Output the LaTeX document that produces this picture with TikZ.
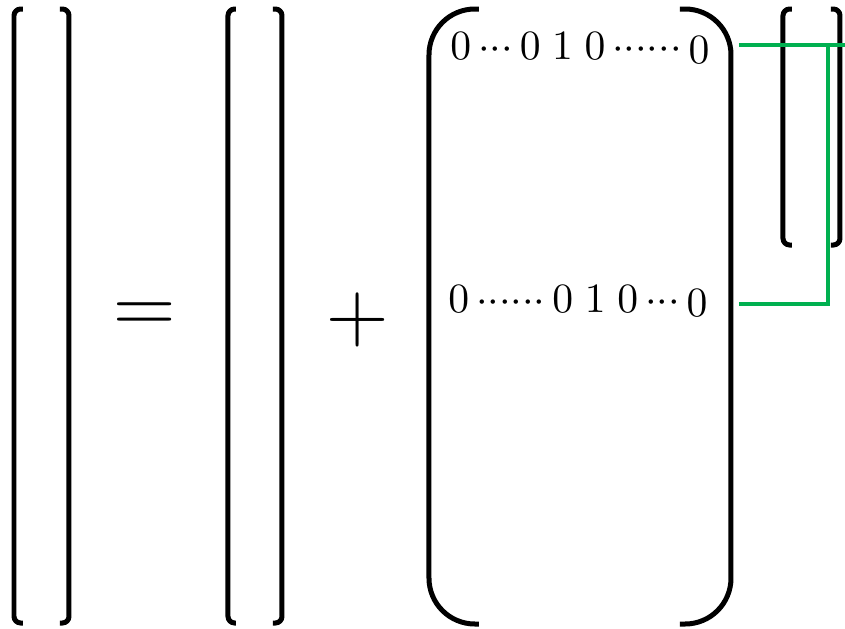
\documentclass[tikz,border=0pt]{standalone}
\usepackage{amsmath,amssymb}
\usepackage{xcolor}
\usetikzlibrary{calc}
\definecolor{linkgreen}{RGB}{0,176,80}
\newcommand{\rdots}{\mathinner{{\cdot}{\cdot}{\cdot}}}

\begin{document}
\begin{tikzpicture}[x=0.24pt, y=-0.24pt, font=\normalsize,
    brk/.style={line width=1.2pt, rounded corners=1.6pt},
    bigbrk/.style={line width=1.2pt, rounded corners=11pt},
    link/.style={linkgreen, line width=1pt},
    op/.style={inner sep=0pt, font=\huge},
    row/.style={inner sep=0pt, anchor=base west}]
    \useasboundingbox (0,0) rectangle (845,629);
    % lhs vector
    \draw[brk] (23,9) -- (14,9) -- (14,623) -- (23,623);
    \draw[brk] (60,9) -- (69,9) -- (69,623) -- (60,623);
    \node[op] (eq) at (145,318) {$=$};
    % second vector
    \draw[brk] (236,9) -- (228,9) -- (228,623) -- (236,623);
    \draw[brk] (273,9) -- (282,9) -- (282,623) -- (273,623);
    \node[op] (plus) at (358,320) {$+$};
    % big matrix
    \draw[bigbrk] (479,9) -- (429,9) -- (429,624) -- (479,624);
    \draw[bigbrk] (680,9) -- (731,9) -- (731,624) -- (680,624);
    \node[row] (row1) at (449.5,59.5) {$0\rdots0\;1\;0\rdots\!\rdots\raisebox{-1pt}{$0$}$};
    \node[row] (row2) at (447.5,312.5) {$0\rdots\!\rdots0\;1\;0\rdots\raisebox{-1pt}{$0$}$};
    % small vector
    \draw[brk] (792,9) -- (783,9) -- (783,245) -- (792,245);
    \draw[brk] (831,9) -- (840,9) -- (840,245) -- (831,245);
    % links
    \coordinate (r1) at (739,45);
    \coordinate (r2) at (739,304);
    \coordinate (edge) at (845,45);
    \coordinate (turn) at (828,45);
    \draw[link] (r1) -- (edge);
    \draw[link] (r2) -| (turn);
\end{tikzpicture}
\end{document}
